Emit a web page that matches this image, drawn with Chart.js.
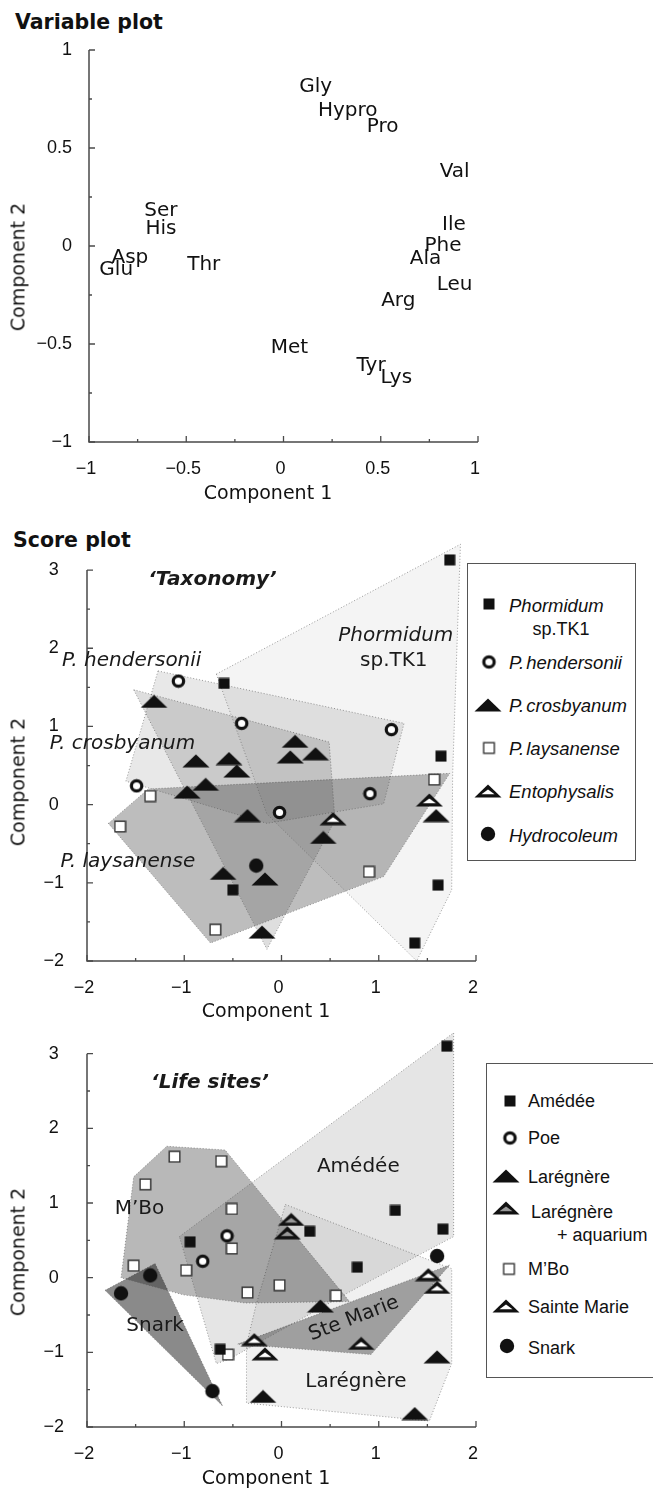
<!DOCTYPE html>
<html>
<head>
<meta charset="utf-8">
<title>Variable plot / Score plot</title>
<script src="https://cdn.jsdelivr.net/npm/chart.js@4.4.1/dist/chart.umd.min.js"></script>
<style>
  html, body { margin: 0; padding: 0; background: #fff; }
  body { position: relative; width: 653px; height: 1489px; overflow: hidden; color: #111; font-family: "DejaVu Sans", sans-serif; }
  .t { position: absolute; white-space: nowrap; line-height: 1; transform: translateY(-50%); }
  .panel-title { font-weight: bold; font-size: 20.5px; }
  .axis-title { font-size: 19px; transform: translate(-50%, -50%); }
  .axis-title.v { transform: translate(-50%, -50%) rotate(-90deg); }
  canvas.plot { position: absolute; left: 0; }
  .legend { position: absolute; box-sizing: border-box; border: 1.5px solid #555; background: #fff;
            font-family: "Liberation Sans", Arial, sans-serif; font-size: 18px; }
  .legend canvas { position: absolute; transform: translate(-50%, -50%); }
  .it { font-style: italic; font-size: 18.5px; word-spacing: -3px; }
</style>
</head>
<body>

<div class="t panel-title" style="left:15px;top:22px">Variable plot</div>
<canvas id="varPlot" class="plot" width="653" height="500" style="top:0"></canvas>
<div class="t axis-title" style="left:268px;top:492px">Component 1</div>
<div class="t axis-title v" style="left:18px;top:267px">Component 2</div>

<div class="t panel-title" style="left:13px;top:540px">Score plot</div>
<canvas id="taxPlot" class="plot" width="653" height="495" style="top:505px"></canvas>
<div class="t axis-title" style="left:266px;top:1010px">Component 1</div>
<div class="t axis-title v" style="left:18px;top:782px">Component 2</div>

<canvas id="sitePlot" class="plot" width="653" height="499" style="top:990px"></canvas>
<div class="t axis-title" style="left:266px;top:1477px">Component 1</div>
<div class="t axis-title v" style="left:18px;top:1252px">Component 2</div>

<div id="legTax" class="legend" style="left:467px;top:563px;width:169px;height:298px">
  <div class="t it" style="left:41px;top:42px">Phormidum</div>
  <div class="t" style="left:93px;top:65px;transform:translate(-50%,-50%)">sp.TK1</div>
  <div class="t it" style="left:41px;top:99px">P. hendersonii</div>
  <div class="t it" style="left:41px;top:142px">P. crosbyanum</div>
  <div class="t it" style="left:41px;top:185px">P. laysanense</div>
  <div class="t it" style="left:41px;top:228px">Entophysalis</div>
  <div class="t it" style="left:41px;top:272px">Hydrocoleum</div>
</div>

<div id="legSite" class="legend" style="left:486px;top:1063px;width:210px;height:315px">
  <div class="t" style="left:41px;top:37px">Amédée</div>
  <div class="t" style="left:41px;top:74px">Poe</div>
  <div class="t" style="left:41px;top:113px">Larégnère</div>
  <div class="t" style="left:44px;top:148px">Larégnère</div>
  <div class="t" style="left:70px;top:171px">+ aquarium</div>
  <div class="t" style="left:41px;top:205px">M’Bo</div>
  <div class="t" style="left:41px;top:243px">Sainte Marie</div>
  <div class="t" style="left:41px;top:284px">Snark</div>
</div>

<script>
// ---- variable plot (loadings) ----
const varNames = ['Gly', 'Hypro', 'Pro', 'Val', 'Ser', 'His', 'Asp', 'Glu', 'Thr',
                  'Ile', 'Phe', 'Ala', 'Leu', 'Arg', 'Met', 'Tyr', 'Lys'];
const varX = [0.165, 0.33, 0.51, 0.88, -0.63, -0.63, -0.79, -0.86, -0.41,
              0.876, 0.82, 0.73, 0.88, 0.59, 0.03, 0.45, 0.58];
const varY = [0.81, 0.69, 0.61, 0.38, 0.18, 0.09, -0.06, -0.12, -0.095,
              0.11, 0.0, -0.066, -0.2, -0.28, -0.52, -0.61, -0.67];
const varTicks = [-1, -0.5, 0, 0.5, 1];

// ---- score plot, taxonomy ----
const phormidumPts = [[1.73, 3.13], [-0.59, 1.55], [1.64, 0.62], [-0.50, -1.09], [1.61, -1.03], [1.37, -1.77]];
const hendersoniiPts = [[-1.06, 1.58], [-0.41, 1.04], [1.13, 0.96], [-1.49, 0.24], [-0.02, -0.10], [0.91, 0.14]];
const crosbyanumPts = [[-1.31, 1.32], [-0.88, 0.56], [-0.54, 0.59], [-0.46, 0.43], [0.14, 0.81], [0.09, 0.61],
                       [0.35, 0.65], [-0.78, 0.26], [-0.97, 0.16], [-0.35, -0.14], [0.43, -0.42], [-0.60, -0.88],
                       [-0.17, -0.95], [1.59, -0.14], [-0.20, -1.63]];
const laysanensePts = [[-1.35, 0.11], [-1.66, -0.28], [1.57, 0.32], [0.90, -0.86], [-0.68, -1.60]];
const entophysalisPts = [[0.53, -0.18], [1.52, 0.06]];
const hydrocoleumPts = [[-0.26, -0.78]];

const phormidumHull = [[-0.67, 1.67], [1.84, 3.33], [1.76, 0.4], [1.75, -1.09], [1.39, -2.0], [-0.15, -0.12]];
const hendersoniiHull = [[-1.27, 1.71], [1.26, 1.04], [1.05, 0.01], [-0.15, -0.24], [-1.6, 0.3]];
const crosbyanumHull = [[-1.52, 1.47], [0.49, 0.80], [0.55, -0.2], [-0.15, -1.85]];
const laysanenseHull = [[-1.78, -0.24], [-1.37, 0.2], [1.73, 0.40], [1.05, -0.92], [-0.73, -1.77]];

// ---- score plot, life sites ----
const amedeePts = [[1.70, 3.10], [1.17, 0.90], [1.66, 0.65], [0.29, 0.62], [-0.94, 0.48], [0.78, 0.14], [-0.63, -0.96]];
const poePts = [[-0.56, 0.56], [-0.81, 0.22]];
const laregnerePts = [[0.40, -0.38], [1.60, -1.06], [-0.19, -1.59], [1.37, -1.82]];
const aquariumPts = [[0.10, 0.78], [0.06, 0.60]];
const mboPts = [[-1.10, 1.62], [-0.62, 1.56], [-1.40, 1.25], [-0.51, 0.92], [-0.51, 0.39], [-1.52, 0.16],
                [-0.98, 0.10], [-0.35, -0.20], [-0.02, -0.10], [0.56, -0.24], [-0.55, -1.03]];
const steMariePts = [[-0.28, -0.83], [-0.17, -1.02], [0.82, -0.88], [1.51, 0.04], [1.60, -0.13]];
const snarkPts = [[1.60, 0.29], [-1.35, 0.03], [-1.65, -0.21], [-0.71, -1.52]];

const amedeeHull = [[-1.05, 0.55], [1.77, 3.28], [1.77, 0.55], [0.70, -0.19], [-0.55, -1.1], [-0.67, -1.15]];
const laregnereHull = [[0.04, 0.98], [1.75, 0.12], [1.75, -1.15], [1.52, -1.92], [-0.36, -1.68], [-0.36, -0.9], [-0.26, -0.36]];
const mboHull = [[-1.18, 1.76], [-0.58, 1.71], [0.70, -0.32], [-0.37, -0.34], [-1.01, -0.23], [-1.65, 0.0], [-1.52, 1.35]];
const steMarieHull = [[-0.45, -0.89], [1.73, 0.17], [0.92, -1.03]];
const snarkHull = [[-1.815, -0.17], [-1.30, 0.19], [-0.605, -1.72]];

const scoreTicksX = [-2, -1, 0, 1, 2];
const scoreTicksY = [-2, -1, 0, 1, 2, 3];

// text written inside the score plots, at data coordinates
const taxNotes = [
  { text: '‘Taxonomy’', x: -0.71, y: 2.88, font: 'italic bold 20px "DejaVu Sans"' },
  { text: 'P. hendersonii', x: -1.54, y: 1.84, font: 'italic 20px "DejaVu Sans"' },
  { text: 'P. crosbyanum', x: -1.635, y: 0.777, font: 'italic 20px "DejaVu Sans"' },
  { text: 'P. laysanense', x: -1.58, y: -0.733, font: 'italic 20px "DejaVu Sans"' },
  { text: 'Phormidum', x: 1.175, y: 2.16, font: 'italic 20px "DejaVu Sans"' },
  { text: 'sp.TK1', x: 1.155, y: 1.84, font: '20px "DejaVu Sans"' }
];
const siteNotes = [
  { text: '‘Life sites’', x: -0.735, y: 2.605, font: 'italic bold 20px "DejaVu Sans"' },
  { text: 'Amédée', x: 0.79, y: 1.48, font: '20px "DejaVu Sans"' },
  { text: 'M’Bo', x: -1.46, y: 0.92, font: '20px "DejaVu Sans"' },
  { text: 'Snark', x: -1.30, y: -0.65, font: '20px "DejaVu Sans"' },
  { text: 'Larégnère', x: 0.766, y: -1.40, font: '20px "DejaVu Sans"' },
  { text: 'Ste Marie', x: 0.745, y: -0.55, font: '20px "DejaVu Sans"', rot: -21 }
];

Chart.defaults.font.family = '"Liberation Sans", Arial, sans-serif';
Chart.defaults.color = '#111';

// ---- marker images ----
function mk(w, h, draw) {
  const c = document.createElement('canvas');
  c.width = w; c.height = h;
  draw(c.getContext('2d'));
  return c;
}
function triPath(g, x0, y0, x1, y1, x2, y2) {
  g.beginPath(); g.moveTo(x0, y0); g.lineTo(x1, y1); g.lineTo(x2, y2); g.closePath();
}
const marker = {
  fSquare: () => mk(12, 12, g => { g.fillStyle = '#111'; g.fillRect(0.5, 0.5, 11, 11); }),
  oSquare: () => mk(13, 13, g => {
    g.fillStyle = '#fff'; g.fillRect(1, 1, 11, 11);
    g.strokeStyle = '#333'; g.lineWidth = 1.4; g.strokeRect(1.2, 1.2, 10.6, 10.6);
  }),
  oCircle: () => mk(15, 15, g => {
    g.beginPath(); g.arc(7.5, 7.5, 5.2, 0, Math.PI * 2);
    g.fillStyle = '#fff'; g.fill(); g.lineWidth = 3.2; g.strokeStyle = '#111'; g.stroke();
  }),
  fCircle: () => mk(16, 16, g => {
    g.beginPath(); g.arc(8, 8, 7.2, 0, Math.PI * 2); g.fillStyle = '#111'; g.fill();
  }),
  fTri: () => mk(28, 14, g => { triPath(g, 0.5, 13.5, 14, 0.5, 27.5, 13.5); g.fillStyle = '#111'; g.fill(); }),
  oTri: (inner) => () => mk(28, 14, g => {
    triPath(g, 0.5, 13.5, 14, 0.5, 27.5, 13.5); g.fillStyle = '#111'; g.fill();
    triPath(g, 7.5, 10.2, 14, 5.6, 20.5, 10.2); g.fillStyle = inner; g.fill();
  })
};

function icon(legendId, make, x, y) {
  const c = make();
  c.style.left = x + 'px';
  c.style.top = y + 'px';
  document.getElementById(legendId).appendChild(c);
}
icon('legTax', marker.fSquare, 21, 40);
icon('legTax', marker.oCircle, 21, 98);
icon('legTax', marker.fTri, 20, 141);
icon('legTax', marker.oSquare, 21, 184);
icon('legTax', marker.oTri('#fff'), 20, 227);
icon('legTax', marker.fCircle, 20, 270);

icon('legSite', marker.fSquare, 23, 37);
icon('legSite', marker.oCircle, 23, 74);
icon('legSite', marker.fTri, 19, 112);
icon('legSite', marker.oTri('#999'), 19, 144);
icon('legSite', marker.oSquare, 22, 205);
icon('legSite', marker.oTri('#fff'), 19, 242);
icon('legSite', marker.fCircle, 20, 282);

// ---- plugins ----
function fmt(v) { return v < 0 ? '\u2212' + Math.abs(v) : String(v); }

const inwardAxes = {
  id: 'inwardAxes',
  afterDatasetsDraw(chart, args, o) {
    const { ctx } = chart;
    const { x, y } = chart.scales;
    const left = x.getPixelForValue(o.x[0]), right = x.getPixelForValue(o.x[1]);
    const bottom = y.getPixelForValue(o.y[0]), top = y.getPixelForValue(o.y[1]);
    ctx.save();
    ctx.strokeStyle = '#4a4a4a';
    ctx.lineWidth = 1.5;
    ctx.beginPath();
    ctx.moveTo(left, top); ctx.lineTo(left, bottom); ctx.lineTo(right, bottom);
    ctx.stroke();
    ctx.lineWidth = 1.3;
    ctx.beginPath();
    x.ticks.forEach(t => {
      const p = x.getPixelForValue(t.value);
      const l = o.xMajor.includes(t.value) ? 6 : 3;
      ctx.moveTo(p, bottom); ctx.lineTo(p, bottom - l);
    });
    y.ticks.forEach(t => {
      const p = y.getPixelForValue(t.value);
      const l = o.yMajor.includes(t.value) ? 6 : 3;
      ctx.moveTo(left, p); ctx.lineTo(left + l, p);
    });
    ctx.stroke();
    ctx.restore();
  }
};

const notes = {
  id: 'notes',
  afterDatasetsDraw(chart, args, o) {
    const { ctx } = chart;
    const { x, y } = chart.scales;
    (o.items || []).forEach(n => {
      ctx.save();
      ctx.font = n.font;
      ctx.fillStyle = '#1a1a1a';
      ctx.textAlign = 'center';
      ctx.textBaseline = 'middle';
      ctx.translate(x.getPixelForValue(n.x), y.getPixelForValue(n.y));
      if (n.rot) ctx.rotate(n.rot * Math.PI / 180);
      ctx.fillText(n.text, 0, 0);
      ctx.restore();
    });
  }
};

const varLabels = {
  id: 'varLabels',
  afterDatasetsDraw(chart) {
    const { ctx } = chart;
    ctx.save();
    ctx.font = '20px "DejaVu Sans"';
    ctx.fillStyle = '#111';
    ctx.textAlign = 'center';
    ctx.textBaseline = 'middle';
    chart.getDatasetMeta(0).data.forEach((pt, i) => ctx.fillText(varNames[i], pt.x, pt.y));
    ctx.restore();
  }
};

// ---- scales ----
function xScale(min, max, step, major, h) {
  return {
    type: 'linear', min, max,
    grid: { display: false, drawTicks: false },
    border: { display: false },
    ticks: {
      stepSize: step, autoSkip: false, maxRotation: 0, padding: 16, labelOffset: -3,
      font: { size: 18 }, color: '#111',
      callback: v => (major.includes(v) ? fmt(v) : '')
    },
    afterFit: s => { s.height = h; }
  };
}
function yScale(min, max, step, major, top, w, pad, cross) {
  return {
    type: 'linear', min, max,
    grid: { display: false, drawTicks: false },
    border: { display: false },
    afterBuildTicks: s => { s.ticks = s.ticks.filter(t => t.value <= top + 1e-9); },
    ticks: {
      stepSize: step, autoSkip: false, padding: pad, crossAlign: cross,
      font: { size: 18 }, color: '#111',
      callback: v => (major.includes(v) ? fmt(v) : '')
    },
    afterFit: s => { s.width = w; }
  };
}

const toXY = pts => pts.map(([x, y]) => ({ x, y }));
const hullSet = (pts, alpha) => ({
  data: toXY(pts.concat([pts[0]])),
  showLine: true, fill: 'shape',
  backgroundColor: 'rgba(0,0,0,' + alpha + ')',
  borderColor: 'rgba(90,90,90,0.6)', borderWidth: 1, borderDash: [1, 2],
  pointRadius: 0, order: 5, clip: false
});
const pointSet = (pts, img) => ({
  data: toXY(pts), pointStyle: img, pointRadius: 14, order: 0, clip: false
});

const baseOpts = (padding) => ({
  responsive: false, animation: false, devicePixelRatio: 1,
  layout: { padding },
  events: []
});

// ---- panel 1: variable plot ----
new Chart(document.getElementById('varPlot'), {
  type: 'scatter',
  data: { datasets: [{ data: varX.map((x, i) => ({ x, y: varY[i] })), pointRadius: 0 }] },
  options: Object.assign(baseOpts({ left: 0, right: 175, top: 50, bottom: 0 }), {
    plugins: {
      legend: { display: false }, tooltip: { enabled: false },
      inwardAxes: { x: [-1, 1], y: [-1, 1], xMajor: varTicks, yMajor: varTicks }
    },
    scales: {
      x: xScale(-1, 1, 0.25, varTicks, 58),
      y: yScale(-1, 1, 0.25, varTicks, 1, 89, 17, 'near')
    }
  }),
  plugins: [inwardAxes, varLabels]
});

// ---- panel 2: taxonomy ----
new Chart(document.getElementById('taxPlot'), {
  type: 'scatter',
  data: {
    datasets: [
      hullSet(phormidumHull, 0.045),
      hullSet(hendersoniiHull, 0.09),
      hullSet(crosbyanumHull, 0.13),
      hullSet(laysanenseHull, 0.26),
      pointSet(phormidumPts, marker.fSquare()),
      pointSet(hendersoniiPts, marker.oCircle()),
      pointSet(crosbyanumPts, marker.fTri()),
      pointSet(laysanensePts, marker.oSquare()),
      pointSet(entophysalisPts, marker.oTri('#fff')()),
      pointSet(hydrocoleumPts, marker.fCircle())
    ]
  },
  options: Object.assign(baseOpts({ left: 0, right: 177, top: 961 - 505 - 5.4 * 78.4, bottom: 0 }), {
    plugins: {
      legend: { display: false }, tooltip: { enabled: false },
      inwardAxes: { x: [-2, 2], y: [-2, 3], xMajor: scoreTicksX, yMajor: scoreTicksY },
      notes: { items: taxNotes }
    },
    scales: {
      x: xScale(-2, 2, 0.5, scoreTicksX, 39),
      y: yScale(-2, 3.4, 0.5, scoreTicksY, 3, 87, 23, 'center')
    }
  }),
  plugins: [inwardAxes, notes]
});

// ---- panel 3: life sites ----
new Chart(document.getElementById('sitePlot'), {
  type: 'scatter',
  data: {
    datasets: [
      hullSet(amedeeHull, 0.1),
      hullSet(laregnereHull, 0.06),
      hullSet(mboHull, 0.28),
      hullSet(steMarieHull, 0.34),
      hullSet(snarkHull, 0.46),
      pointSet(amedeePts, marker.fSquare()),
      pointSet(poePts, marker.oCircle()),
      pointSet(laregnerePts, marker.fTri()),
      pointSet(aquariumPts, marker.oTri('#999')()),
      pointSet(mboPts, marker.oSquare()),
      pointSet(steMariePts, marker.oTri('#fff')()),
      pointSet(snarkPts, marker.fCircle())
    ]
  },
  options: Object.assign(baseOpts({ left: 0, right: 177, top: 1427 - 990 - 5.4 * 78.6, bottom: 0 }), {
    plugins: {
      legend: { display: false }, tooltip: { enabled: false },
      inwardAxes: { x: [-2, 2], y: [-2, 3], xMajor: scoreTicksX, yMajor: scoreTicksY },
      notes: { items: siteNotes }
    },
    scales: {
      x: xScale(-2, 2, 0.5, scoreTicksX, 62),
      y: yScale(-2, 3.4, 0.5, scoreTicksY, 3, 87, 23, 'center')
    }
  }),
  plugins: [inwardAxes, notes]
});
</script>
</body>
</html>
